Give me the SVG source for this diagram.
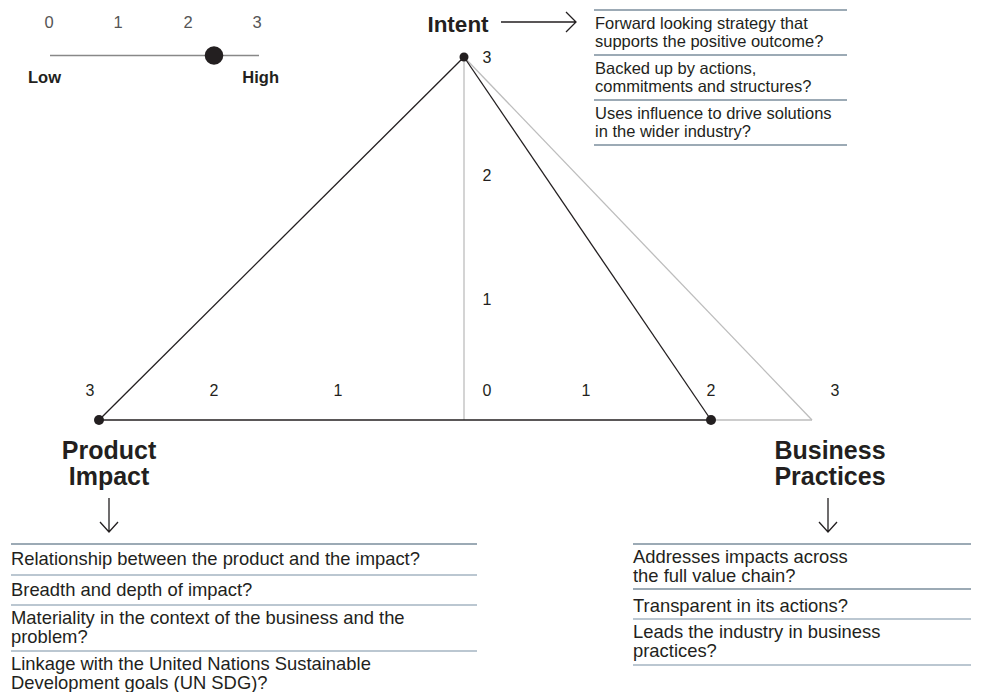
<svg xmlns="http://www.w3.org/2000/svg" width="981" height="692" viewBox="0 0 981 692">
<style>
.t{font-family:"Liberation Sans",Arial,sans-serif;fill:#231f20;font-size:16.5px}
.u{font-family:"Liberation Sans",Arial,sans-serif;fill:#231f20;font-size:18.4px}
.n{font-family:"Liberation Sans",Arial,sans-serif;fill:#231f20;font-size:16px}
.b{font-family:"Liberation Sans",Arial,sans-serif;fill:#231f20;font-size:25px;font-weight:bold}
.bi{font-family:"Liberation Sans",Arial,sans-serif;fill:#231f20;font-size:22.5px;font-weight:bold}
.s{font-family:"Liberation Sans",Arial,sans-serif;fill:#231f20;font-size:16.5px;font-weight:bold}
.d{font-family:"Liberation Sans",Arial,sans-serif;fill:#555;font-size:16.5px}
.r1{stroke:#3b566c;stroke-width:1.2}
.r2{stroke:#7890a3;stroke-width:1.2}
.k{stroke:#231f20;stroke-width:1.3;fill:none}
.g{stroke:#bdbdbd;stroke-width:1.3;fill:none}
.ar{stroke:#231f20;stroke-width:1.3;fill:none}
</style>
<rect width="981" height="692" fill="#fff"/>
<g id="scale">
<text class="d" x="49" y="28" text-anchor="middle">0</text>
<text class="d" x="118" y="28" text-anchor="middle">1</text>
<text class="d" x="188" y="28" text-anchor="middle">2</text>
<text class="d" x="257" y="28" text-anchor="middle">3</text>
<line x1="50" y1="55.5" x2="259" y2="55.5" stroke="#888" stroke-width="1.3"/>
<circle cx="214" cy="55.5" r="9.3" fill="#231f20"/>
<text class="s" x="28" y="83">Low</text>
<text class="s" x="279" y="83" text-anchor="end">High</text>
</g>
<g id="connectors">
<line class="g" x1="464" y1="57" x2="464" y2="420"/>
<line class="g" x1="464" y1="57" x2="812" y2="420"/>
<line class="g" x1="711" y1="420" x2="812" y2="420" stroke="#999"/>
<line class="k" x1="99" y1="420" x2="711" y2="420"/>
<line class="k" x1="464" y1="57" x2="99" y2="420"/>
<line class="k" x1="464" y1="57" x2="711" y2="420"/>
<path class="ar" d="M501 22 H576 M566 12 L576 22 L566 32"/>
<path class="ar" d="M109 498 V532 M100 522 L109 532 L118 522"/>
<path class="ar" d="M828 498 V532 M819 522 L828 532 L837 522"/>
</g>
<g id="axis-labels">
<text class="n" x="487" y="63" text-anchor="middle">3</text>
<text class="n" x="487" y="181" text-anchor="middle">2</text>
<text class="n" x="487" y="305" text-anchor="middle">1</text>
<text class="n" x="487" y="396" text-anchor="middle">0</text>
<text class="n" x="90" y="396" text-anchor="middle">3</text>
<text class="n" x="214" y="396" text-anchor="middle">2</text>
<text class="n" x="338" y="396" text-anchor="middle">1</text>
<text class="n" x="586" y="396" text-anchor="middle">1</text>
<text class="n" x="711" y="396" text-anchor="middle">2</text>
<text class="n" x="835" y="396" text-anchor="middle">3</text>
</g>
<g id="node-intent">
<circle cx="464" cy="57" r="4.5" fill="#231f20"/>
<text class="bi" x="458" y="32" text-anchor="middle">Intent</text>
</g>
<g id="node-product">
<circle cx="99" cy="420" r="5" fill="#231f20"/>
<text class="b" x="109" y="459" text-anchor="middle">Product</text>
<text class="b" x="109" y="485" text-anchor="middle">Impact</text>
</g>
<g id="node-business">
<circle cx="711" cy="420" r="5" fill="#231f20"/>
<text class="b" x="830" y="459" text-anchor="middle">Business</text>
<text class="b" x="830" y="485" text-anchor="middle">Practices</text>
</g>
<g id="panel-intent">
<line class="r1" x1="594" y1="10" x2="847" y2="10"/>
<text class="t" x="595" y="29">Forward looking strategy that</text>
<text class="t" x="595" y="47">supports the positive outcome?</text>
<line class="r1" x1="594" y1="55" x2="847" y2="55"/>
<text class="t" x="595" y="74">Backed up by actions,</text>
<text class="t" x="595" y="92">commitments and structures?</text>
<line class="r1" x1="594" y1="100" x2="847" y2="100"/>
<text class="t" x="595" y="119">Uses influence to drive solutions</text>
<text class="t" x="595" y="137">in the wider industry?</text>
<line class="r1" x1="594" y1="145" x2="847" y2="145"/>
</g>
<g id="panel-product">
<line class="r1" x1="11" y1="544" x2="477" y2="544"/>
<text class="u" x="11" y="565">Relationship between the product and the impact?</text>
<line class="r2" x1="11" y1="575" x2="477" y2="575"/>
<text class="u" x="11" y="596">Breadth and depth of impact?</text>
<line class="r2" x1="11" y1="605" x2="477" y2="605"/>
<text class="u" x="11" y="624">Materiality in the context of the business and the</text>
<text class="u" x="11" y="643">problem?</text>
<line class="r2" x1="11" y1="651" x2="477" y2="651"/>
<text class="u" x="11" y="670">Linkage with the United Nations Sustainable</text>
<text class="u" x="11" y="689">Development goals (UN SDG)?</text>
</g>
<g id="panel-business">
<line class="r1" x1="633" y1="544" x2="971" y2="544"/>
<text class="u" x="633" y="563">Addresses impacts across</text>
<text class="u" x="633" y="582">the full value chain?</text>
<line class="r1" x1="633" y1="589" x2="971" y2="589"/>
<text class="u" x="633" y="612">Transparent in its actions?</text>
<line class="r2" x1="633" y1="619" x2="971" y2="619"/>
<text class="u" x="633" y="638">Leads the industry in business</text>
<text class="u" x="633" y="657">practices?</text>
<line class="r2" x1="633" y1="665" x2="971" y2="665"/>
</g>
</svg>
